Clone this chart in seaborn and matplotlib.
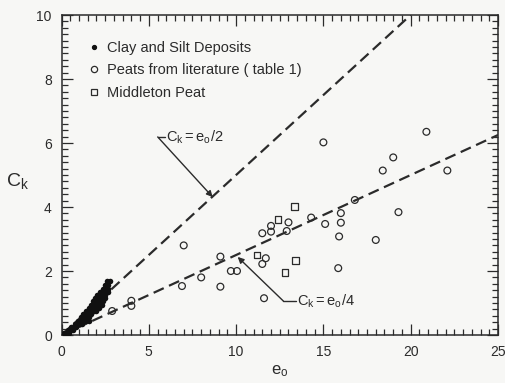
import matplotlib
matplotlib.use("Agg")
import matplotlib.pyplot as plt
import seaborn as sns
import pandas as pd
from matplotlib.ticker import MultipleLocator
from matplotlib.lines import Line2D

# ---------------- data ----------------
clay_x = [0.15, 0.3, 0.45, 0.35, 0.5, 0.65, 0.55, 0.7, 0.85, 0.75, 0.9, 1.05, 1.2,
          0.95, 1.1, 1.25, 1.4, 1.55, 1.1, 1.25, 1.4, 1.55, 1.25, 1.4, 1.55, 1.7,
          1.4, 1.55, 1.7, 1.85, 2.0, 1.55, 1.7, 1.85, 2.0, 2.15, 1.7, 1.85, 2.0, 2.15, 2.3,
          1.8, 1.95, 2.1, 2.25, 2.4, 1.9, 2.05, 2.2, 2.35, 2.5, 2.05, 2.2, 2.35, 2.5,
          2.2, 2.35, 2.5, 2.65, 2.35, 2.5, 2.65, 2.5, 2.65, 2.6, 2.8]
clay_y = [0.05, 0.05, 0.05, 0.15, 0.15, 0.15, 0.25, 0.25, 0.25, 0.35, 0.35, 0.35, 0.35,
          0.45, 0.45, 0.45, 0.45, 0.45, 0.55, 0.55, 0.55, 0.55, 0.65, 0.65, 0.65, 0.65,
          0.75, 0.75, 0.75, 0.75, 0.75, 0.85, 0.85, 0.85, 0.85, 0.85, 0.95, 0.95, 0.95, 0.95, 0.95,
          1.05, 1.05, 1.05, 1.05, 1.05, 1.15, 1.15, 1.15, 1.15, 1.15, 1.25, 1.25, 1.25, 1.25,
          1.35, 1.35, 1.35, 1.35, 1.45, 1.45, 1.45, 1.55, 1.55, 1.7, 1.7]

peat_x = [2.9, 4.0, 4.0, 7.0, 9.1, 8.0, 6.9, 9.7, 10.05, 9.1, 11.6, 11.5, 12.0, 12.0,
          13.0, 12.9, 14.3, 15.1, 16.0, 16.0, 15.9, 16.8, 18.0, 11.7, 11.5, 15.85,
          15.0, 20.9, 19.0, 18.4, 22.1, 19.3]
peat_y = [0.75, 1.07, 0.91, 2.8, 2.45, 1.8, 1.53, 2.0, 2.0, 1.51, 1.15, 3.18, 3.41, 3.23,
          3.52, 3.25, 3.67, 3.47, 3.81, 3.51, 3.08, 4.22, 2.97, 2.4, 2.22, 2.09,
          6.02, 6.35, 5.55, 5.14, 5.14, 3.84]

middleton_x = [11.2, 12.4, 13.35, 13.4, 12.8]
middleton_y = [2.5, 3.62, 4.01, 2.33, 1.95]

half_line_x = [0, 20]      # Ck = eo/2
quarter_line_x = [0, 25]   # Ck = eo/4

x_ticks = [0, 5, 10, 15, 20, 25]
y_ticks = [0, 2, 4, 6, 8, 10]
legend_labels = ["Clay and Silt Deposits", "Peats from literature ( table 1)", "Middleton Peat"]

# ---------------- style ----------------
sns.set_theme(style="ticks")
plt.rcParams["font.family"] = ["Liberation Sans", "DejaVu Sans"]
plt.rcParams["mathtext.fontset"] = "custom"
plt.rcParams["mathtext.rm"] = "Liberation Sans"
plt.rcParams["mathtext.it"] = "Liberation Sans"

ink = "#2b2b2b"
bg = "#f7f7f5"

fig = plt.figure(figsize=(5.05, 3.83), dpi=100, facecolor=bg)
ax = fig.add_axes([0.1218, 0.1253, 0.8643, 0.8355])
ax.set_facecolor(bg)

clay = pd.DataFrame({"e0": clay_x, "Ck": clay_y})
peat = pd.DataFrame({"e0": peat_x, "Ck": peat_y})
mid = pd.DataFrame({"e0": middleton_x, "Ck": middleton_y})
half = pd.DataFrame({"e0": half_line_x, "Ck": [v / 2 for v in half_line_x]})
quarter = pd.DataFrame({"e0": quarter_line_x, "Ck": [v / 4 for v in quarter_line_x]})

sns.lineplot(data=half, x="e0", y="Ck", ax=ax, color=ink, lw=1.6,
             legend=False).lines[-1].set_dashes((5, 2.6))
sns.lineplot(data=quarter, x="e0", y="Ck", ax=ax, color=ink, lw=1.6,
             legend=False).lines[-1].set_dashes((5, 2.6))

sns.scatterplot(data=clay, x="e0", y="Ck", ax=ax, color="#111111", s=16,
                linewidth=0, legend=False, zorder=3)
sns.scatterplot(data=peat, x="e0", y="Ck", ax=ax, marker="o", s=24,
                facecolors="none", edgecolor=ink, linewidth=0.9, legend=False, zorder=3)
sns.scatterplot(data=mid, x="e0", y="Ck", ax=ax, marker="s", s=24,
                facecolors="none", edgecolor=ink, linewidth=0.9, legend=False, zorder=3)

ax.set_xlim(0, 25)
ax.set_ylim(0, 10)
ax.set_xticks(x_ticks)
ax.set_yticks(y_ticks)
ax.xaxis.set_minor_locator(MultipleLocator(0.5))
ax.yaxis.set_minor_locator(MultipleLocator(0.2))
ax.tick_params(which="both", direction="in", top=True, right=True, colors=ink,
               labelsize=10, width=0.9)
ax.tick_params(which="major", length=8, pad=7)
ax.tick_params(which="minor", length=4)
for sp in ax.spines.values():
    sp.set_color(ink)
    sp.set_linewidth(1.1)

ax.set_xlabel(r"$\mathregular{e_o}$", fontsize=12, color=ink)
ax.xaxis.set_label_coords(0.5, -0.113)
ax.xaxis.label.set_va("center")
ax.set_ylabel(r"$\mathregular{C_k}$", fontsize=14, color=ink, rotation=0,
              ha="center", va="center")
ax.yaxis.set_label_coords(-0.1, 0.48)

# annotations
ax.plot([5.51, 5.95], [6.19, 6.19], color=ink, lw=1.0)
ax.annotate("", xy=(8.66, 4.31), xytext=(5.51, 6.19),
            arrowprops=dict(arrowstyle="-|>", color=ink, lw=1.0, mutation_scale=9,
                            shrinkA=0, shrinkB=0))
ax.text(6.0, 6.19, r"$\mathregular{C_k = e_o/2}$", fontsize=10.5, color=ink,
        ha="left", va="center")

ax.plot([12.71, 13.45], [1.06, 1.06], color=ink, lw=1.0)
ax.annotate("", xy=(10.09, 2.44), xytext=(12.71, 1.06),
            arrowprops=dict(arrowstyle="-|>", color=ink, lw=1.0, mutation_scale=9,
                            shrinkA=0, shrinkB=0))
ax.text(13.5, 1.06, r"$\mathregular{C_k = e_o/4}$", fontsize=10.5, color=ink,
        ha="left", va="center")

handles = [
    Line2D([], [], ls="none", marker="o", ms=2.8, color="#111111"),
    Line2D([], [], ls="none", marker="o", ms=4.5, mfc="none", mec=ink, mew=0.9),
    Line2D([], [], ls="none", marker="s", ms=4.5, mfc="none", mec=ink, mew=0.9),
]
leg = ax.legend(handles, legend_labels, loc="upper left", bbox_to_anchor=(0.062, 0.92),
                frameon=False, fontsize=10.5, handlelength=0.8, handletextpad=0.45,
                labelspacing=0.6, borderpad=0, borderaxespad=0)
for t in leg.get_texts():
    t.set_color(ink)

fig.savefig("out.png", dpi=100, facecolor=bg)
